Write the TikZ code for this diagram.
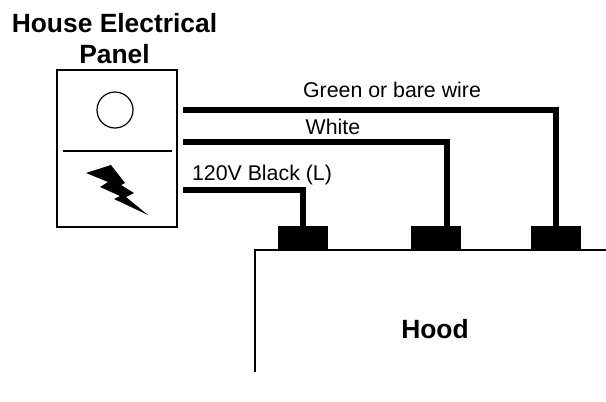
\documentclass[tikz,border=0pt]{standalone}
\usepackage{fontspec}
\setmainfont{Liberation Sans}
\begin{document}
\begin{tikzpicture}
  [x=.75pt,y=-.75pt,
   wire/.style={line width=4.6pt,line join=miter},
   terminal/.style={fill=black,minimum width=37.5pt,minimum height=18pt,inner sep=0pt},
   wirelabel/.style={font=\fontsize{16}{18}\selectfont,inner sep=0pt},
   title/.style={font=\fontsize{19.8}{23.2}\selectfont\bfseries,inner sep=0pt,align=center}]
  \useasboundingbox (0,0) rectangle (606,401);

  \node[draw,line width=1.1pt,minimum width=90pt,minimum height=117.5pt,inner sep=0pt] (panel) at (117,148.5) {};
  \node[draw,circle,line width=.9pt,minimum size=27pt,inner sep=0pt] (breaker) at (115,110) {};
  \coordinate (divl) at (63,151);
  \coordinate (divr) at (172,151);
  \draw[line width=.9pt] (divl) -- (divr);
  \fill (86,173) -- (111,165) -- (125,183) -- (121,185) -- (134,193) -- (126,197)
    -- (148,215) -- (114,199) -- (120,196) -- (100,187) -- (108,182) -- cycle;

  \node[title] (paneltitle) at (114.5,39) {House Electrical\\Panel};

  \node[terminal] (t1) at (303,238) {};
  \node[terminal] (t2) at (436,238) {};
  \node[terminal] (t3) at (556,238) {};

  \coordinate (s1) at (183,190);
  \coordinate (s2) at (183,142);
  \coordinate (s3) at (183,110);
  \coordinate (e2) at (447,226);

  \foreach \from/\to in {s1/t1.north,s2/e2,s3/t3.north}
    \draw[wire] (\from) -| (\to);

  % hood outline, open on the right and below
  \coordinate (h0) at (255,250);
  \coordinate (h1) at (606,250);
  \coordinate (h2) at (255,372);
  \draw[line width=.9pt] (h1) -- (h0) -- (h2);
  \node[title] (hood) at (435,329) {Hood};

  \node[wirelabel] (l1) at (392,90) {Green or bare wire};
  \node[wirelabel] (l2) at (333,126.5) {White};
  \node[wirelabel] (l3) at (262,174.5) {120V Black (L)};
\end{tikzpicture}
\end{document}
